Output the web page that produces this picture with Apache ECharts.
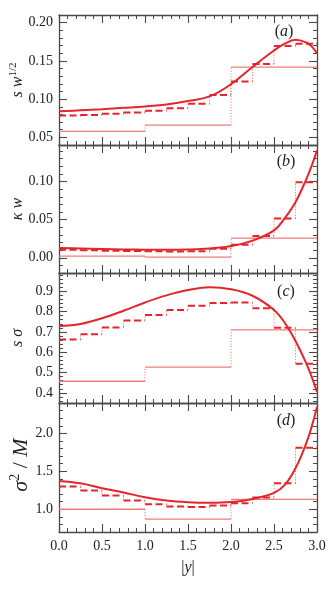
<!DOCTYPE html>
<html><head><meta charset="utf-8">
<script src="https://cdn.jsdelivr.net/npm/echarts@6/dist/echarts.min.js"></script>
<style>html,body{margin:0;padding:0;background:#fff}#c{width:332px;height:591px}</style>
</head><body><div id="c"></div>
<script>
// ---------- data ----------
const xCurve = [0, 0.25, 0.5, 0.75, 1.0, 1.25, 1.5, 1.75, 2.0, 2.25, 2.5, 2.625, 2.75, 2.875, 2.9375, 3.0];
const curveA = [0.0840, 0.0853, 0.0868, 0.0886, 0.0905, 0.0930, 0.0975, 0.1035, 0.1195, 0.1420, 0.1635, 0.1725, 0.1775, 0.1740, 0.1690, 0.1600];
const curveB = [0.0128, 0.0122, 0.0116, 0.0110, 0.0106, 0.0104, 0.0108, 0.0122, 0.0155, 0.0225, 0.0360, 0.0520, 0.0730, 0.1030, 0.1205, 0.1410];
const curveC = [0.729, 0.739, 0.767, 0.804, 0.845, 0.880, 0.906, 0.920, 0.910, 0.878, 0.808, 0.745, 0.655, 0.545, 0.480, 0.405];
const curveD = [1.373, 1.342, 1.276, 1.220, 1.158, 1.114, 1.092, 1.085, 1.094, 1.135, 1.215, 1.320, 1.540, 1.870, 2.085, 2.350];

const fineEdges = [0, 0.25, 0.5, 0.75, 1.0, 1.25, 1.5, 1.75, 2.0, 2.25, 2.5, 2.75, 3.0];
const coarseEdges = [0, 1, 2, 3];

const dashA = [0.0786, 0.0793, 0.0808, 0.0826, 0.0848, 0.0880, 0.0940, 0.1055, 0.1230, 0.1460, 0.1695, 0.1725];
const dashB = [0.0105, 0.0098, 0.0092, 0.0088, 0.0085, 0.0083, 0.0086, 0.0118, 0.0172, 0.0286, 0.0515, 0.0990];
const dashC = [0.663, 0.688, 0.722, 0.756, 0.783, 0.808, 0.829, 0.842, 0.845, 0.817, 0.720, 0.543];
const dashD = [1.298, 1.246, 1.180, 1.114, 1.066, 1.035, 1.031, 1.048, 1.079, 1.156, 1.342, 1.811];

const thinA = [0.0578, 0.0659, 0.1418];
const thinB = [0.0022, 0.0009, 0.0258];
const thinC = [0.457, 0.527, 0.710];
const thinD = [1.000, 0.870, 1.131];

const ticksA = [0.05, 0.10, 0.15, 0.20];
const ticksB = [0.00, 0.05, 0.10];
const ticksC = [0.4, 0.5, 0.6, 0.7, 0.8, 0.9];
const ticksD = [1.0, 1.5, 2.0];
const xTicks = [0, 0.5, 1.0, 1.5, 2.0, 2.5, 3.0];

// ---------- layout ----------
const SERIF = 'Liberation Serif';
const RED = '#e4252b';
const PINK = '#f07d7d';
const AX = '#4a4a4a';
const panels = [
  {curve: curveA, dash: dashA, thin: thinA, ticks: ticksA, min: 0.04, max: 0.21, minor: 0.01, dec: 2, top: 15, height: 130, tag: 'a'},
  {curve: curveB, dash: dashB, thin: thinB, ticks: ticksB, min: -0.02, max: 0.148, minor: 0.01, dec: 2, top: 145, height: 128, tag: 'b'},
  {curve: curveC, dash: dashC, thin: thinC, ticks: ticksC, min: 0.35, max: 0.99, minor: 0.02, dec: 1, top: 273, height: 130, tag: 'c'},
  {curve: curveD, dash: dashD, thin: thinD, ticks: ticksD, min: 0.70, max: 2.40, minor: 0.1, dec: 1, top: 403, height: 129, tag: 'd'}
];

function minorVals(min, max, step) {
  const out = [];
  const k0 = Math.ceil(min / step - 1e-9), k1 = Math.floor(max / step + 1e-9);
  for (let k = k0; k <= k1; k++) out.push(Math.round(k * step * 10000) / 10000);
  return out;
}
function horiz(edges, vals) {
  const d = [];
  vals.forEach((v, i) => { d.push([edges[i], v], [edges[i + 1], v], [edges[i + 1], '-']); });
  return d;
}
function verts(edges, vals) {
  const d = [];
  for (let i = 0; i < vals.length - 1; i++) {
    d.push([edges[i + 1], vals[i]], [edges[i + 1], vals[i + 1]], [edges[i + 1], '-']);
  }
  return d;
}

const grid = [], xAxis = [], yAxis = [], series = [];
panels.forEach((p, gi) => {
  grid.push({left: 59, right: 15, top: p.top, height: p.height});
  const last = gi === panels.length - 1;
  const xBase = {
    type: 'value', gridIndex: gi, min: 0, max: 3, interval: 0.5,
    axisLine: {show: true, onZero: false, lineStyle: {color: AX, width: 1.3}},
    axisTick: {show: true, inside: true, length: 8, lineStyle: {color: AX, width: 1.1}},
    minorTick: {show: true, splitNumber: 5, length: 4, lineStyle: {color: AX, width: 1}},
    splitLine: {show: false}, minorSplitLine: {show: false}
  };
  xAxis.push(Object.assign({}, xBase, {
    position: 'bottom',
    axisLabel: {show: last, margin: 7, fontFamily: SERIF, fontSize: 14, color: '#222',
      formatter: v => v.toFixed(1)}
  }));
  xAxis.push(Object.assign({}, xBase, {position: 'top', axisLabel: {show: false}}));
  const mins = minorVals(p.min, p.max, p.minor);
  const yBase = {type: 'value', gridIndex: gi, min: p.min, max: p.max, splitLine: {show: false}};
  ['left', 'right'].forEach(pos => {
    yAxis.push(Object.assign({}, yBase, {
      position: pos,
      axisLine: {show: true, onZero: false, lineStyle: {color: AX, width: 1.3}},
      axisTick: {show: true, inside: true, length: 8, customValues: p.ticks, lineStyle: {color: AX, width: 1.1}},
      axisLabel: {show: pos === 'left', customValues: p.ticks, margin: 6, fontFamily: SERIF, fontSize: 14, color: '#222',
        formatter: v => Number(v).toFixed(p.dec)}
    }));
    yAxis.push(Object.assign({}, yBase, {
      position: pos,
      axisLine: {show: false, onZero: false},
      axisTick: {show: true, inside: true, length: 4, customValues: mins, lineStyle: {color: AX, width: 1}},
      axisLabel: {show: false}
    }));
  });
  const xi = gi * 2, yi = gi * 4;
  const common = {type: 'line', xAxisIndex: xi, yAxisIndex: yi, showSymbol: false, symbol: 'none', silent: true, connectNulls: false, animation: false, clip: true};
  series.push(Object.assign({}, common, {data: verts(coarseEdges, p.thin), z: 1,
    lineStyle: {color: PINK, width: 1, type: [1.2, 1.6]}}));
  series.push(Object.assign({}, common, {data: horiz(coarseEdges, p.thin), z: 2,
    lineStyle: {color: PINK, width: 1.3}}));
  series.push(Object.assign({}, common, {data: verts(fineEdges, p.dash), z: 3,
    lineStyle: {color: PINK, width: 1, type: [1.2, 1.6]}}));
  series.push(Object.assign({}, common, {data: horiz(fineEdges, p.dash), z: 4,
    lineStyle: {color: RED, width: 2, type: [7, 3.5]}}));
  series.push(Object.assign({}, common, {data: xCurve.map((x, i) => [x, p.curve[i]]), smooth: 0.4, z: 5,
    lineStyle: {color: RED, width: 2}}));
});

const richBase = {
  i: {fontFamily: SERIF, fontStyle: 'italic', fontSize: 16, fill: '#222', color: '#222', lineHeight: 20},
  n: {fontFamily: SERIF, fontSize: 16, fill: '#222', color: '#222', lineHeight: 20},
  s: {fontFamily: SERIF, fontSize: 11, fill: '#222', color: '#222', verticalAlign: 'top', lineHeight: 12},
  I: {fontFamily: SERIF, fontStyle: 'italic', fontSize: 22, fill: '#222', color: '#222', lineHeight: 26},
  N: {fontFamily: SERIF, fontSize: 22, fill: '#222', color: '#222', lineHeight: 26},
  S: {fontFamily: SERIF, fontSize: 14, fill: '#222', color: '#222', verticalAlign: 'top', lineHeight: 14}
};
function txt(x, y, text, rot) {
  return {type: 'text', x: x, y: y, rotation: rot || 0, z: 100,
    style: {text: text, rich: richBase, align: 'center', verticalAlign: 'middle', fill: '#222'}};
}
const graphic = [
  txt(18, 80, '{i|s w}{s|1/2}', Math.PI / 2),
  txt(18, 209, '{i|κ w}', Math.PI / 2),
  txt(18, 338, '{i|s σ}', Math.PI / 2),
  txt(21, 465, '{I|σ}{S|2}{N| / }{I|M}', Math.PI / 2),
  txt(284, 32, '{n|(}{i|a}{n|)}'),
  txt(286, 162, '{n|(}{i|b}{n|)}'),
  txt(286, 292, '{n|(}{i|c}{n|)}'),
  txt(286, 421, '{n|(}{i|d}{n|)}'),
  txt(188, 568, '{n||}{i|y}{n||}')
];

const chart = echarts.init(document.getElementById('c'), null, {renderer: 'canvas'});
chart.setOption({animation: false, backgroundColor: '#fff', grid, xAxis, yAxis, series, graphic});
</script></body></html>
